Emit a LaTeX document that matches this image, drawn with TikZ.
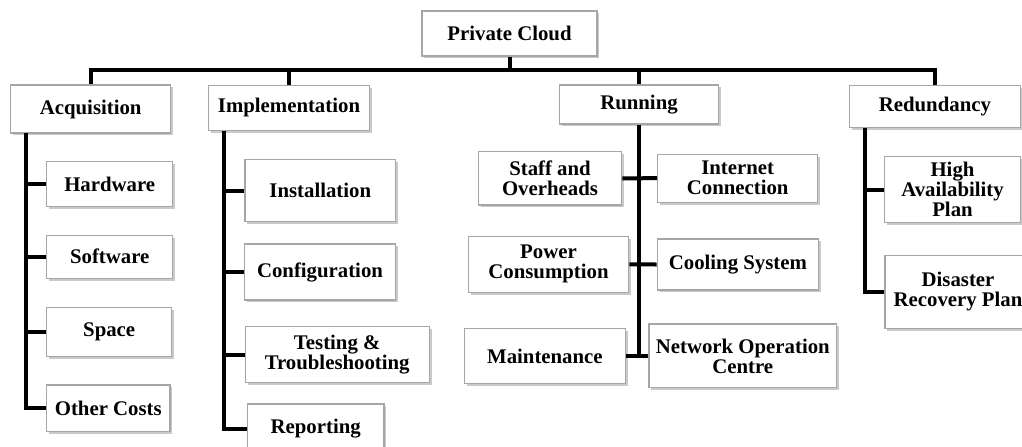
\documentclass[tikz,border=0pt]{standalone}
\usepackage{fontspec}
\setmainfont{Liberation Serif}
\usetikzlibrary{shadows}

\tikzset{
    box/.style={draw=gray!70, line width=0.6pt, fill=white, align=center, inner sep=1pt,
        font=\fontsize{10.4}{10}\selectfont\bfseries,
        drop shadow={shadow xshift=1.2pt, shadow yshift=-1.2pt, fill=gray!70, opacity=0.6}},
    link/.style={line width=2pt}
}

\begin{document}
\begin{tikzpicture}[x=0.5pt, y=-0.5pt]
                    \useasboundingbox (0,0) rectangle (1022,446);
                    \node[box, minimum width=87.5pt, minimum height=22.5pt] (cloud) at (509.5,33.5) {Private Cloud};
                    \node[box, minimum width=80pt, minimum height=24pt] (acq) at (90.7,109) {Acquisition};
                    \node[box, minimum width=80.3pt, minimum height=22.8pt] (impl) at (289,107.9) {Implementation};
                    \node[box, minimum width=79.7pt, minimum height=19.5pt] (run) at (639,104.5) {Running};
                    \node[box, minimum width=85.8pt, minimum height=21.3pt] (red) at (934.9,106.4) {Redundancy};

                    \node[box, minimum width=63pt, minimum height=22.5pt] (hw) at (109.7,184.2) {Hardware};
                    \node[box, minimum width=63pt, minimum height=21.6pt] (sw) at (109.7,256.7) {Software};
                    \node[box, minimum width=62.5pt, minimum height=24.7pt] (space) at (109.2,332) {Space};
                    \node[box, minimum width=61.6pt, minimum height=23.3pt] (other) at (108.3,408.3) {Other Costs};

                    \node[box, minimum width=75.3pt, minimum height=31.2pt] (inst) at (320.3,190.5) {Installation};
                    \node[box, minimum width=75.7pt, minimum height=28pt] (conf) at (320,272) {Configuration};
                    \node[box, minimum width=92.1pt, minimum height=27.8pt] (test) at (337.2,354.5) {Testing \&\\Troubleshooting};
                    \node[box, minimum width=68.3pt, minimum height=25pt] (rep) at (315.7,429) {Reporting};

                    \node[box, minimum width=71.7pt, minimum height=26.6pt] (staff) at (550,178.3) {Staff and\\Overheads};
                    \node[box, minimum width=80pt, minimum height=24.1pt] (inet) at (737.7,178.2) {Internet\\Connection};
                    \node[box, minimum width=80.3pt, minimum height=27.9pt] (power) at (548.5,264.3) {Power\\Consumption};
                    \node[box, minimum width=80.6pt, minimum height=25.5pt] (cool) at (737.9,264.5) {Cooling System};
                    \node[box, minimum width=80.2pt, minimum height=27.2pt] (maint) at (544.9,355.9) {Maintenance};
                    \node[box, minimum width=93.9pt, minimum height=31.9pt] (noc) at (742.8,355.9) {Network Operation\\Centre};

                    \node[box, minimum width=68.2pt, minimum height=33pt] (ha) at (952.5,189.7) {High\\Availability\\Plan};
                    \node[box, minimum width=73pt, minimum height=36.5pt] (dr) at (958,291.9) {Disaster\\Recovery Plan};

                    \coordinate (bus) at (509.5,70);
                    \coordinate (acqs) at (26,133);
                    \coordinate (impls) at (224,130.7);
                    \coordinate (reds) at (865,127.7);

                    \draw[link] (cloud.south) -- (bus);
                    \draw[link] (acq.north) -- (acq.north |- bus) -- (red.north |- bus) -- (red.north);
                    \draw[link] (impl.north) -- (impl.north |- bus);
                    \draw[link] (run.north) -- (run.north |- bus);

                    \draw[link] (acqs) |- (other.west);
                    \draw[link] (acqs |- hw.west) -- (hw.west);
                    \draw[link] (acqs |- sw.west) -- (sw.west);
                    \draw[link] (acqs |- space.west) -- (space.west);

                    \draw[link] (impls) |- (rep.west);
                    \draw[link] (impls |- inst.west) -- (inst.west);
                    \draw[link] (impls |- conf.west) -- (conf.west);
                    \draw[link] (impls |- test.west) -- (test.west);

                    \draw[link] (run.south) -- (run.south |- maint.east);
                    \draw[link] (staff.east) -- (inet.west);
                    \draw[link] (power.east) -- (cool.west);
                    \draw[link] (maint.east) -- (noc.west);

                    \draw[link] (reds) |- (dr.west);
                    \draw[link] (reds |- ha.west) -- (ha.west);
                \end{tikzpicture}
\end{document}
